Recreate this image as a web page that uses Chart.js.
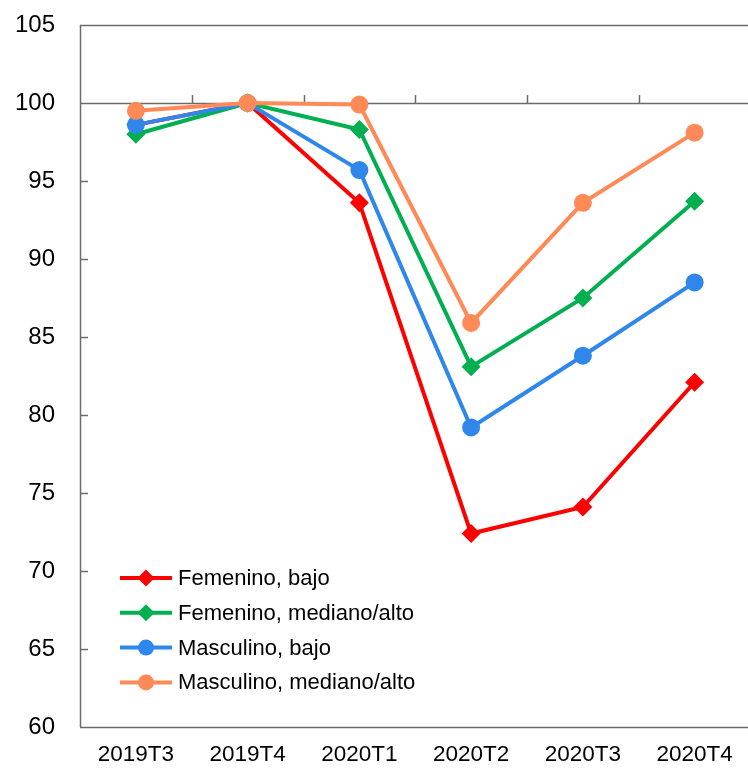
<!DOCTYPE html>
<html>
<head>
<meta charset="utf-8">
<script src="https://cdn.jsdelivr.net/npm/chart.js@4/dist/chart.umd.min.js"></script>
<style>
  html, body { margin: 0; padding: 0; background: #fff; overflow: hidden; }
  #wrap { width: 760px; height: 771px; }
</style>
</head>
<body>
<div id="wrap"><canvas id="c" width="760" height="771"></canvas></div>
<script>
// Quarterly index (2019T4 = 100) by sex and education level
const categories = ['2019T3', '2019T4', '2020T1', '2020T2', '2020T3', '2020T4'];
const seriesNames = ['Femenino, bajo', 'Femenino, mediano/alto', 'Masculino, bajo', 'Masculino, mediano/alto'];
const femeninoBajo = [98.6, 100, 93.6, 72.4, 74.1, 82.1];
const femeninoMedianoAlto = [98.0, 100, 98.3, 83.1, 87.5, 93.7];
const masculinoBajo = [98.6, 100, 95.7, 79.2, 83.8, 88.5];
const masculinoMedianoAlto = [99.5, 100, 99.9, 85.9, 93.6, 98.1];
const yTicks = [60, 65, 70, 75, 80, 85, 90, 95, 100, 105];

const colors = ['#FF0000', '#00B050', '#3087EB', '#FF8A57'];
const styles = ['rectRot', 'rectRot', 'circle', 'circle'];
const values = [femeninoBajo, femeninoMedianoAlto, masculinoBajo, masculinoMedianoAlto];

const FONT = "'Liberation Sans', Arial, sans-serif";
const AXIS = '#6b6b6b';

// Axis lines, inner tick marks and the in-plot legend
const framePlugin = {
  id: 'frame',
  beforeDatasetsDraw(chart) {
    const { ctx, chartArea: a, scales: { x, y } } = chart;
    ctx.save();
    ctx.strokeStyle = AXIS;
    ctx.lineWidth = 1.5;
    const yBase = y.getPixelForValue(100);
    ctx.beginPath();
    // horizontal lines at 105, 100 and 60
    [105, 100, 60].forEach(v => {
      const py = Math.round(y.getPixelForValue(v)) + 0.5;
      ctx.moveTo(a.left, py); ctx.lineTo(a.right, py);
    });
    // vertical axis
    ctx.moveTo(a.left + 0.5, a.top); ctx.lineTo(a.left + 0.5, a.bottom);
    // y tick marks pointing inward
    yTicks.forEach(v => {
      const py = Math.round(y.getPixelForValue(v)) + 0.5;
      ctx.moveTo(a.left, py); ctx.lineTo(a.left + 8, py);
    });
    // category boundary marks rising from the 100 line
    for (let i = 0; i < categories.length - 1; i++) {
      const px = Math.round((x.getPixelForValue(i) + x.getPixelForValue(i + 1)) / 2) + 0.5;
      ctx.moveTo(px, yBase); ctx.lineTo(px, yBase - 8);
    }
    ctx.stroke();
    ctx.restore();
  },
  afterDatasetsDraw(chart) {
    const { ctx, chartArea: a } = chart;
    const H = Chart.helpers;
    ctx.save();
    const x0 = a.left + 40, x1 = a.left + 92, xm = (x0 + x1) / 2;
    chart.data.datasets.forEach((ds, i) => {
      const py = 578 + i * 34.8;
      ctx.strokeStyle = ds.borderColor;
      ctx.lineWidth = ds.borderWidth;
      ctx.beginPath();
      ctx.moveTo(x0, py); ctx.lineTo(x1, py);
      ctx.stroke();
      ctx.fillStyle = ds.pointBackgroundColor;
      ctx.strokeStyle = ds.pointBorderColor;
      H.drawPoint(ctx, { pointStyle: ds.pointStyle, radius: ds.pointRadius - 1, rotation: 0, borderWidth: 0 }, xm, py);
      ctx.fillStyle = '#000';
      ctx.font = '22px ' + FONT;
      ctx.textAlign = 'left';
      ctx.textBaseline = 'middle';
      ctx.fillText(ds.label, x1 + 6, py + 1);
    });
    ctx.restore();
  }
};

const datasets = seriesNames.map((name, i) => ({
  label: name,
  data: values[i],
  borderColor: colors[i],
  backgroundColor: colors[i],
  pointBackgroundColor: colors[i],
  pointBorderColor: colors[i],
  borderWidth: 4,
  pointStyle: styles[i],
  pointRadius: styles[i] === 'circle' ? 9 : 9.5,
  pointBorderWidth: 0,
  pointHoverRadius: 9,
  tension: 0,
  order: 4 - i
}));

new Chart(document.getElementById('c'), {
  type: 'line',
  data: { labels: categories, datasets },
  options: {
    responsive: false,
    animation: false,
    events: [],
    layout: { padding: { top: 25, right: 5, left: 0, bottom: 0 } },
    plugins: { legend: { display: false }, tooltip: { enabled: false } },
    scales: {
      x: {
        offset: true,
        grid: { display: false },
        border: { display: false },
        ticks: { color: '#000', font: { family: FONT, size: 22.5 }, padding: 6, maxRotation: 0, autoSkip: false },
        afterFit(s) { s.height = 44; s.paddingLeft = 0; s.paddingRight = 0; }
      },
      y: {
        min: 60, max: 105,
        grid: { display: false },
        border: { display: false },
        afterBuildTicks(s) { s.ticks = yTicks.map(v => ({ value: v })); },
        ticks: { color: '#000', font: { family: FONT, size: 24 }, padding: 17 },
        afterFit(s) { s.width = 80; s.paddingTop = 0; s.paddingBottom = 0; }
      }
    }
  },
  plugins: [framePlugin]
});
</script>
</body>
</html>
